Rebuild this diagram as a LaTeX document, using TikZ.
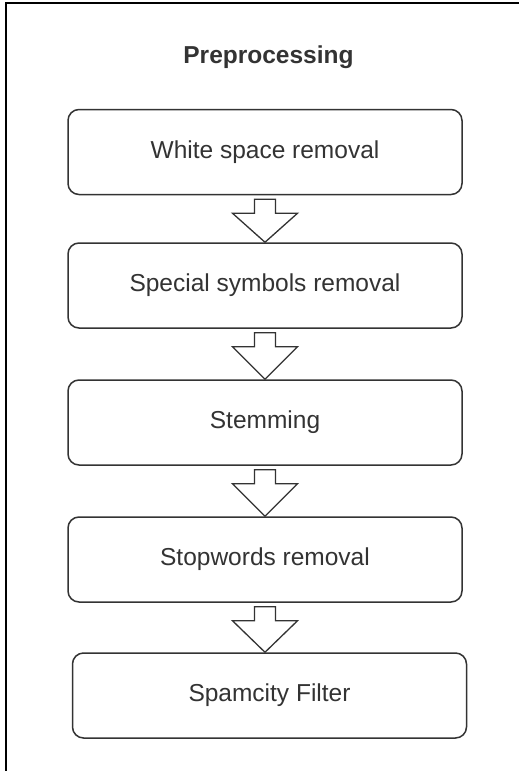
\documentclass[tikz,border=0pt]{standalone}
\usepackage{fontspec}
\setmainfont{Liberation Sans}
\usetikzlibrary{calc}
\definecolor{ln}{HTML}{333333}
\tikzset{
  stepbox/.style={draw=ln, line width=1.5pt, rounded corners=11pt,
    minimum width=394pt, minimum height=85pt, inner sep=0pt, text=ln,
    font=\fontsize{24.5}{29}\selectfont},
  titletext/.style={text=ln, font=\fontsize{24.5}{29}\selectfont\bfseries},
  blockarr/.style={draw=ln, line width=1.3pt, fill=white, line join=miter},
  frame/.style={draw=black, line width=2pt}
}
\newcommand\blockarrow[2]{%
  \draw[blockarr] let \p1=(#1.south), \p2=(#2.north) in
    (\x1-10.5pt,\y1-4pt) -- (\x1+10.5pt,\y1-4pt) -- (\x1+10.5pt,\y1-18pt)
    -- (\x1+32.5pt,\y1-18pt) -- (\x1,\y2) -- (\x1-32.5pt,\y1-18pt)
    -- (\x1-10.5pt,\y1-18pt) -- cycle;}
\begin{document}
\begin{tikzpicture}[x=1pt,y=-1pt]
\useasboundingbox (0,0) rectangle (519,771);
\fill[white] (0,0) rectangle (519,771);
\draw[frame] (6,771) -- (6,3) -- (519,3);
\node[titletext] (title) at (268.5,57) {Preprocessing};
\node[stepbox] (b1) at (265,152) {White space removal};
\node[stepbox] (b2) at (265,285.5) {Special symbols removal};
\node[stepbox] (b3) at (265,422.5) {Stemming};
\node[stepbox] (b4) at (265,559.5) {Stopwords removal};
\node[stepbox] (b5) at (269.5,695.5) {Spamcity Filter};
\blockarrow{b1}{b2}
\blockarrow{b2}{b3}
\blockarrow{b3}{b4}
\blockarrow{b4}{b5}
\end{tikzpicture}
\end{document}
